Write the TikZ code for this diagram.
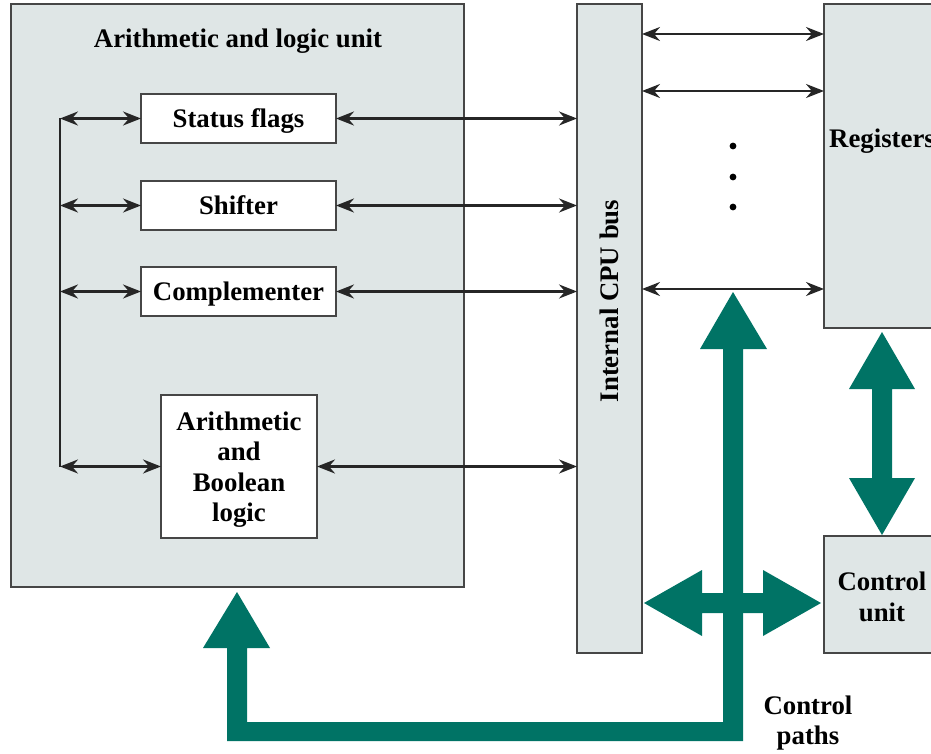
\documentclass[tikz,border=0pt]{standalone}
\usepackage{fontspec}
\setmainfont{Liberation Serif}
\usetikzlibrary{arrows.meta}
\definecolor{boxfill}{RGB}{223,230,230}
\definecolor{cgreen}{RGB}{0,115,101}
\definecolor{edgec}{RGB}{70,70,70}
\begin{document}
\begin{tikzpicture}[x=1pt,y=-1pt,
  font=\fontsize{26.8}{30.5}\selectfont\bfseries,
  gbox/.style={draw=edgec, line width=1.8pt, fill=boxfill, inner sep=0pt, outer sep=0pt, anchor=north west},
  wbox/.style={draw=edgec, line width=1.8pt, fill=white, inner sep=0pt, outer sep=0pt, anchor=north west, align=center, text depth=0pt},
  conn/.style={line width=2.4pt, draw=black!85, {Stealth[length=18pt,width=14pt,inset=6pt]}-{Stealth[length=18pt,width=14pt,inset=6pt]}},
  plainline/.style={line width=2.4pt, draw=black!85},
  garrow/.style={fill=cgreen, draw=none}]
\useasboundingbox (0,0) rectangle (931,754);
\clip (0,0) rectangle (931,754);

% boxes
\node[gbox, minimum width=453pt, minimum height=583pt] (alu) at (11,4) {};
\node[wbox, minimum width=195pt, minimum height=49pt] (status) at (141,94) {Status flags};
\node[wbox, minimum width=195pt, minimum height=49pt] (shifter) at (141,181) {Shifter};
\node[wbox, minimum width=195pt, minimum height=49pt] (compl) at (141,267) {Complementer};
\node[wbox, minimum width=156pt, minimum height=143pt] (arith) at (161,395) {Arithmetic\\and\\Boolean\\logic};
\node[gbox, minimum width=65pt, minimum height=649pt] (bus) at (577,4) {};
\node[gbox, minimum width=150pt, minimum height=324pt] (regs) at (824,4) {};
\node[gbox, minimum width=150pt, minimum height=117pt] (ctrl) at (824,536) {};

% labels
\node (alut) at (238,41) {Arithmetic and logic unit};
\node[rotate=90] (bust) at (609.5,301) {Internal CPU bus};
\node[anchor=west, inner sep=0pt] (regt) at (829,141) {Registers};
\node[align=center] (ctrlt) at (882,597) {Control\\unit};
\node[align=center] (cpt) at (808,723) {Control\\paths};

% ALU internal connectors
\coordinate (vtop) at (60,118.5);
\coordinate (vbot) at (60,466.5);
\draw[plainline] (vtop) -- (vbot);
\draw[conn] (status.west -| vtop) -- (status.west);
\draw[conn] (shifter.west -| vtop) -- (shifter.west);
\draw[conn] (compl.west -| vtop) -- (compl.west);
\draw[conn] (arith.west -| vtop) -- (arith.west);

% ALU to bus
\draw[conn] (status.east) -- (status.east -| bus.west);
\draw[conn] (shifter.east) -- (shifter.east -| bus.west);
\draw[conn] (compl.east) -- (compl.east -| bus.west);
\draw[conn] (arith.east) -- (arith.east -| bus.west);

% bus to registers
\coordinate (r1) at (700,34);
\coordinate (r2) at (700,91);
\coordinate (r3) at (700,289);
\draw[conn] (bus.east |- r1) -- (regs.west |- r1);
\draw[conn] (bus.east |- r2) -- (regs.west |- r2);
\draw[conn] (bus.east |- r3) -- (regs.west |- r3);

% dots
\fill (733,146) circle (3.4pt);
\fill (733,177) circle (3.4pt);
\fill (733,207) circle (3.4pt);

% green control paths
\fill[garrow] (733,292) -- (767,349) -- (743,349) -- (743,741) -- (227,741) -- (227,648)
  -- (203,648) -- (237,592) -- (270,648) -- (247,648) -- (247,722) -- (723,722)
  -- (723,349) -- (700,349) -- cycle;
\fill[garrow] (644,603) -- (702,570) -- (702,593) -- (763,593) -- (763,570) -- (821,603)
  -- (763,636) -- (763,613) -- (702,613) -- (702,636) -- cycle;
\fill[garrow] (882,332) -- (915,389) -- (892,389) -- (892,478) -- (915,478) -- (882,535)
  -- (849,478) -- (872,478) -- (872,389) -- (849,389) -- cycle;
\end{tikzpicture}
\end{document}
